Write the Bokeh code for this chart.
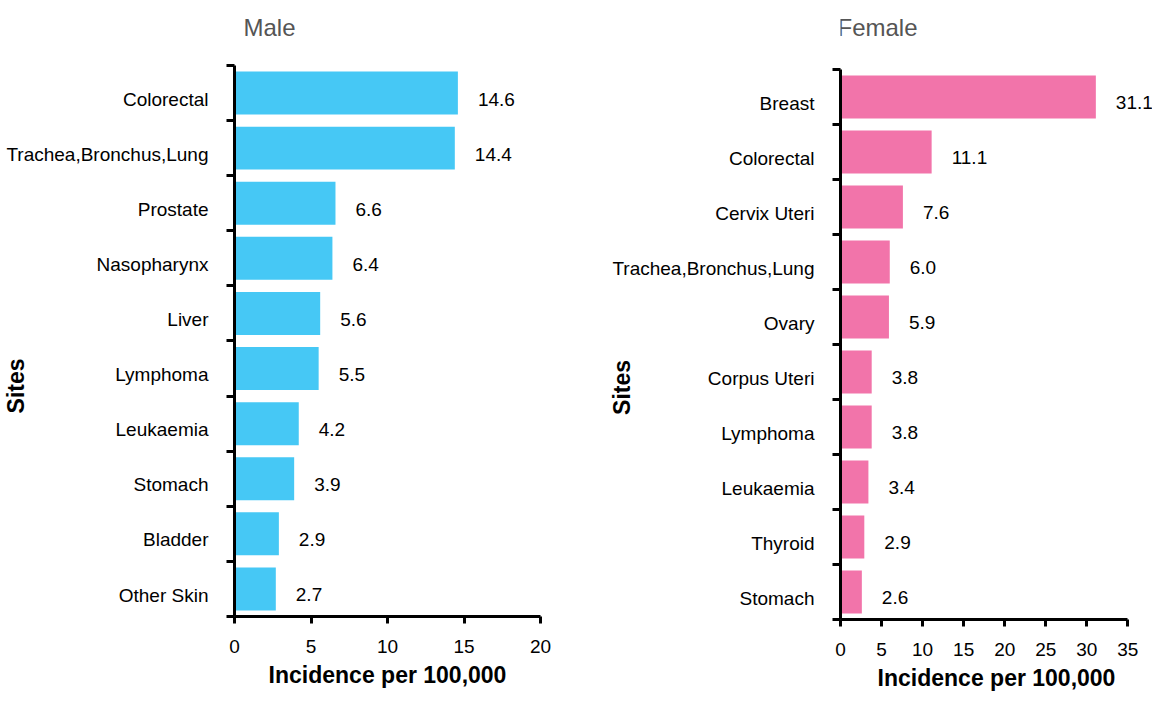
from bokeh.plotting import figure
from bokeh.models import ColumnDataSource, FixedTicker, LabelSet, Label, Range1d
from bokeh.core.properties import value
from bokeh.layouts import row
from bokeh.embed import file_html
from bokeh.resources import INLINE

male_sites = ["Colorectal", "Trachea,Bronchus,Lung", "Prostate", "Nasopharynx", "Liver",
              "Lymphoma", "Leukaemia", "Stomach", "Bladder", "Other Skin"]
male_values = [14.6, 14.4, 6.6, 6.4, 5.6, 5.5, 4.2, 3.9, 2.9, 2.7]
male_xticks = [0, 5, 10, 15, 20]

female_sites = ["Breast", "Colorectal", "Cervix Uteri", "Trachea,Bronchus,Lung", "Ovary",
                "Corpus Uteri", "Lymphoma", "Leukaemia", "Thyroid", "Stomach"]
female_values = [31.1, 11.1, 7.6, 6.0, 5.9, 3.8, 3.8, 3.4, 2.9, 2.6]
female_xticks = [0, 5, 10, 15, 20, 25, 30, 35]

FONT = "Liberation Sans"
# non-breaking spaces after the label push the visible word lower along the axis
SITES_LABEL = "Sites" + "\u00a0" * 23


def make_panel(title, sites, values, color, xticks, xend, ytop_pad, fw, fh, bl, br, bt, bb,
               title_dx, title_dy):
    n = len(sites)
    centers = [n - i - 0.5 for i in range(n)]
    label_pos = [c - 0.11 for c in centers]
    src = ColumnDataSource(dict(site=sites, value=values, y=centers,
                                label=[f"{v:.1f}" for v in values]))
    p = figure(frame_width=fw, frame_height=fh, title=None,
               x_range=Range1d(xticks[0], xend), y_range=Range1d(0, n + ytop_pad),
               output_backend="svg", toolbar_location=None,
               min_border_left=bl, min_border_right=br,
               min_border_top=bt, min_border_bottom=bb,
               outline_line_color=None, background_fill_color="white",
               border_fill_color="white")
    p.hbar(y="y", left=0, right="value", height=0.78, fill_color=color,
           line_color=None, source=src)
    p.xgrid.visible = False
    p.ygrid.visible = False

    # y axis: labels at band centres, tick marks at band boundaries
    ya = p.yaxis[0]
    ya.ticker = FixedTicker(ticks=label_pos, minor_ticks=list(range(n + 1)))
    ya.bounds = (0, n)
    ya.major_label_overrides = {c: s for c, s in zip(label_pos, sites)}
    ya.major_tick_line_color = None
    ya.major_tick_out = 0
    ya.major_tick_in = 0
    ya.minor_tick_out = 8
    ya.minor_tick_in = 0
    ya.minor_tick_line_width = 3
    ya.minor_tick_line_color = "black"
    ya.axis_line_width = 3
    ya.axis_line_color = "black"
    ya.major_label_standoff = 18
    ya.major_label_text_font = FONT
    ya.major_label_text_font_size = "19px"
    ya.major_label_text_color = "black"
    ya.axis_label = SITES_LABEL
    ya.axis_label_text_font = FONT
    ya.axis_label_text_font_size = "23px"
    ya.axis_label_text_font_style = "bold"
    ya.axis_label_text_color = "black"
    ya.axis_label_standoff = -26

    # x axis
    xa = p.xaxis[0]
    xa.ticker = FixedTicker(ticks=xticks, minor_ticks=[])
    xa.bounds = (xticks[0], xticks[-1])
    xa.major_tick_out = 7
    xa.major_tick_in = 0
    xa.major_tick_line_width = 3
    xa.major_tick_line_color = "black"
    xa.minor_tick_line_color = None
    xa.axis_line_width = 3
    xa.axis_line_color = "black"
    xa.major_label_standoff = 16
    xa.major_label_text_font = FONT
    xa.major_label_text_font_size = "19px"
    xa.major_label_text_color = "black"
    xa.axis_label = "Incidence per 100,000"
    xa.axis_label_text_font = FONT
    xa.axis_label_text_font_size = "23px"
    xa.axis_label_text_font_style = "bold"
    xa.axis_label_text_color = "black"
    xa.axis_label_standoff = 6

    # panel title, placed above the top of the y axis
    p.add_layout(Label(x=0, y=n, x_offset=title_dx, y_offset=title_dy, text=title,
                       text_baseline="alphabetic", text_align="left",
                       text_font=FONT, text_font_size="24px",
                       text_color="#555555"))

    labels = LabelSet(x="value", y="y", text="label", source=src, x_offset=20,
                      y_offset=-6, text_baseline="middle", text_align="left",
                      text_font=value(FONT), text_font_size=value("19px"),
                      text_color="black")
    p.add_layout(labels)
    return p


male = make_panel("Male", male_sites, male_values, "#46C8F5", male_xticks, 20, 1.034,
                  fw=306, fh=608, bl=226, br=66, bt=8, bb=78, title_dx=9, title_dy=38)
female = make_panel("Female", female_sites, female_values, "#F274AA", female_xticks, 38.0,
                    1.109, fw=312, fh=611, bl=228, br=0, bt=8, bb=75, title_dx=-3,
                    title_dy=42)

layout = row(male, female)
open("out.html", "w").write(file_html(layout, INLINE))
